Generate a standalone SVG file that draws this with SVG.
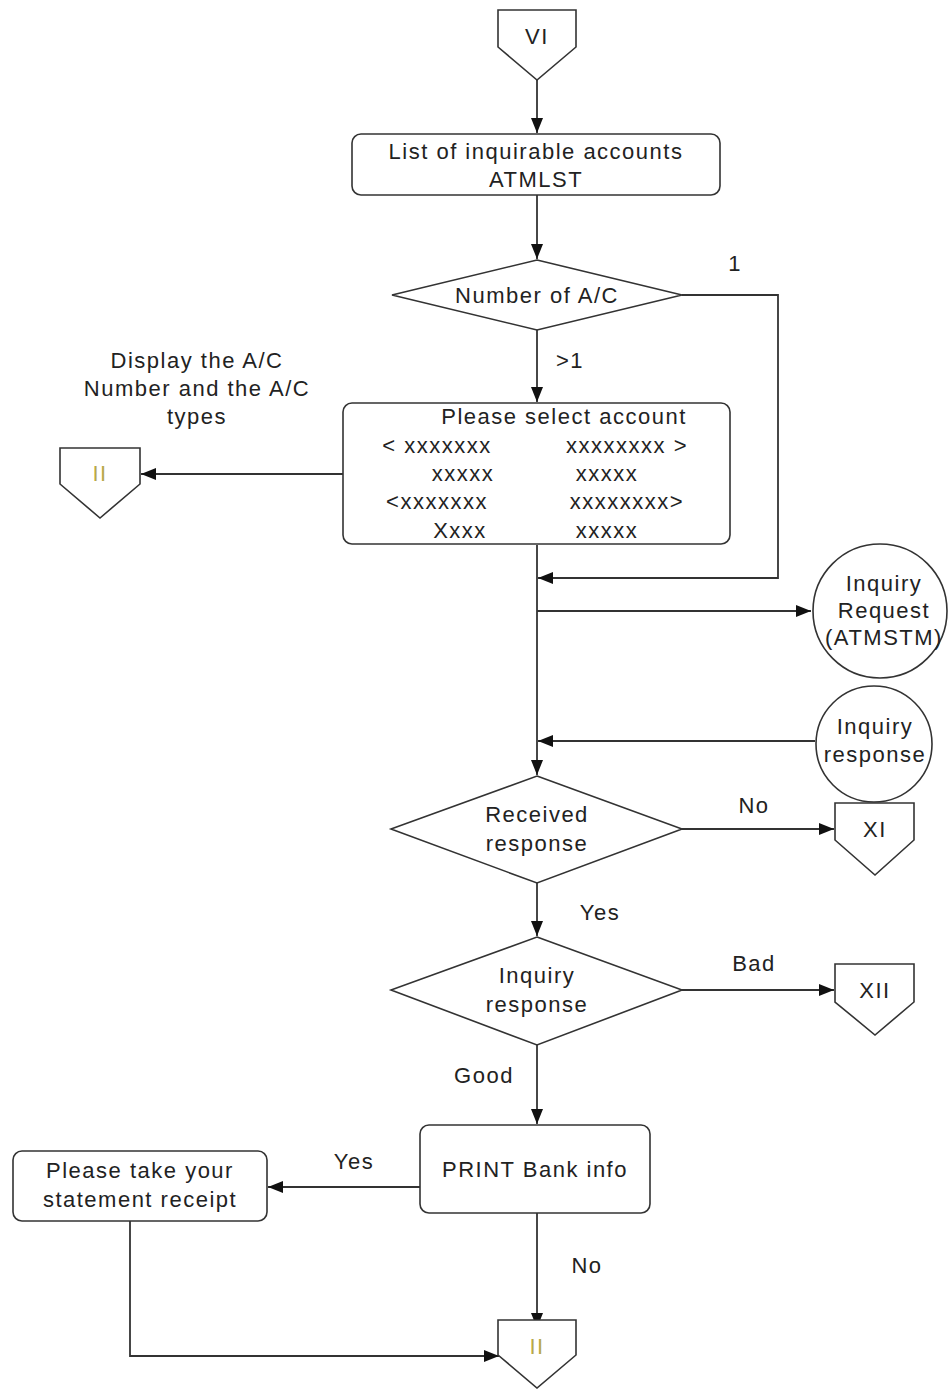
<svg xmlns="http://www.w3.org/2000/svg" width="951" height="1389" viewBox="0 0 951 1389">
  <style>
    .shape { fill: #ffffff; stroke: #333333; stroke-width: 1.6; }
    .wire { fill: none; stroke: #333333; stroke-width: 1.8; }
    text { font-family: "Liberation Sans", Arial, sans-serif; font-size: 22px; fill: #222222; letter-spacing: 1.5px; text-anchor: middle; dominant-baseline: central; }
    .off { fill: #b8a84a; }
  </style>
  <defs>
    <marker id="arrow" markerUnits="userSpaceOnUse" markerWidth="16" markerHeight="12" refX="15" refY="6" orient="auto">
      <path d="M0,0 L15,6 L0,12 z" fill="#111111"/>
    </marker>
  </defs>

  <rect width="951" height="1389" fill="#ffffff"/>

  <!-- connectors -->
  <g id="connectors">
    <path class="wire" d="M537,80 L537,133" marker-end="url(#arrow)"/>
    <path class="wire" d="M537,195 L537,259" marker-end="url(#arrow)"/>
    <path class="wire" d="M682,295 L778,295 L778,578 L538,578" marker-end="url(#arrow)"/>
    <path class="wire" d="M537,330 L537,402" marker-end="url(#arrow)"/>
    <path class="wire" d="M343,474 L141,474" marker-end="url(#arrow)"/>
    <path class="wire" d="M537,545 L537,775" marker-end="url(#arrow)"/>
    <path class="wire" d="M537,611 L811,611" marker-end="url(#arrow)"/>
    <path class="wire" d="M815,741 L538,741" marker-end="url(#arrow)"/>
    <path class="wire" d="M682,829 L834,829" marker-end="url(#arrow)"/>
    <path class="wire" d="M537,883 L537,936" marker-end="url(#arrow)"/>
    <path class="wire" d="M682,990 L834,990" marker-end="url(#arrow)"/>
    <path class="wire" d="M537,1045 L537,1124" marker-end="url(#arrow)"/>
    <path class="wire" d="M420,1187 L268,1187" marker-end="url(#arrow)"/>
    <path class="wire" d="M537,1213 L537,1328" marker-end="url(#arrow)"/>
    <path class="wire" d="M130,1221 L130,1356 L499,1356" marker-end="url(#arrow)"/>
    <text x="735" y="263">1</text>
    <text x="570" y="360">&gt;1</text>
    <text x="754" y="805">No</text>
    <text x="600" y="912">Yes</text>
    <text x="754" y="963">Bad</text>
    <text x="484" y="1075">Good</text>
    <text x="354" y="1161">Yes</text>
    <text x="587" y="1265">No</text>
  </g>

  <!-- off-page connector VI -->
  <g id="offpage-vi">
    <path class="shape" d="M498,10 L576,10 L576,47 L537,80 L498,47 Z"/>
    <text x="537" y="36" fill="#555555">VI</text>
  </g>

  <g id="list-accounts">
    <rect class="shape" x="352" y="134" width="368" height="61" rx="9"/>
    <text x="536" y="151">List of inquirable accounts</text>
    <text x="536" y="179">ATMLST</text>
  </g>

  <g id="number-of-ac">
    <path class="shape" d="M537,260 L682,295 L537,330 L392,295 Z"/>
    <text x="537" y="295">Number of A/C</text>
  </g>

  <g id="display-note">
    <text x="197" y="360">Display the A/C</text>
    <text x="197" y="388">Number and the A/C</text>
    <text x="197" y="416">types</text>
  </g>

  <g id="select-account">
    <rect class="shape" x="343" y="403" width="387" height="141" rx="9"/>
    <text x="564" y="416">Please select account</text>
    <text x="437" y="445">&lt; xxxxxxx</text>
    <text x="627" y="445">xxxxxxxx &gt;</text>
    <text x="463" y="473">xxxxx</text>
    <text x="607" y="473">xxxxx</text>
    <text x="437" y="501">&lt;xxxxxxx</text>
    <text x="627" y="501">xxxxxxxx&gt;</text>
    <text x="460" y="530">Xxxx</text>
    <text x="607" y="530">xxxxx</text>
  </g>

  <g id="offpage-ii-left">
    <path class="shape" d="M60,448 L140,448 L140,484 L100,518 L60,484 Z"/>
    <text x="100" y="473" class="off">II</text>
  </g>

  <g id="inquiry-request">
    <circle class="shape" cx="880" cy="611" r="67"/>
    <text x="884" y="583">Inquiry</text>
    <text x="884" y="610">Request</text>
    <text x="884" y="637">(ATMSTM)</text>
  </g>

  <g id="inquiry-response-msg">
    <circle class="shape" cx="874" cy="744" r="58"/>
    <text x="875" y="726">Inquiry</text>
    <text x="875" y="754">response</text>
  </g>

  <g id="received-response">
    <path class="shape" d="M537,776 L682,829 L537,883 L391,829 Z"/>
    <text x="537" y="814">Received</text>
    <text x="537" y="843">response</text>
  </g>

  <g id="offpage-xi">
    <path class="shape" d="M835,803 L914,803 L914,840 L875,875 L835,840 Z"/>
    <text x="875" y="829" fill="#444444">XI</text>
  </g>

  <g id="inquiry-response">
    <path class="shape" d="M537,937 L682,990 L537,1045 L391,990 Z"/>
    <text x="537" y="975">Inquiry</text>
    <text x="537" y="1004">response</text>
  </g>

  <g id="offpage-xii">
    <path class="shape" d="M835,964 L914,964 L914,1002 L875,1035 L835,1002 Z"/>
    <text x="875" y="990" fill="#444444">XII</text>
  </g>

  <g id="print-bank-info">
    <rect class="shape" x="420" y="1125" width="230" height="88" rx="9"/>
    <text x="535" y="1169">PRINT Bank info</text>
  </g>

  <g id="take-receipt">
    <rect class="shape" x="13" y="1151" width="254" height="70" rx="9"/>
    <text x="140" y="1170">Please take your</text>
    <text x="140" y="1199">statement receipt</text>
  </g>

  <g id="offpage-ii-bottom">
    <path class="shape" d="M498,1320 L576,1320 L576,1355 L537,1388 L498,1355 Z"/>
    <text x="537" y="1346" class="off">II</text>
  </g>
</svg>
